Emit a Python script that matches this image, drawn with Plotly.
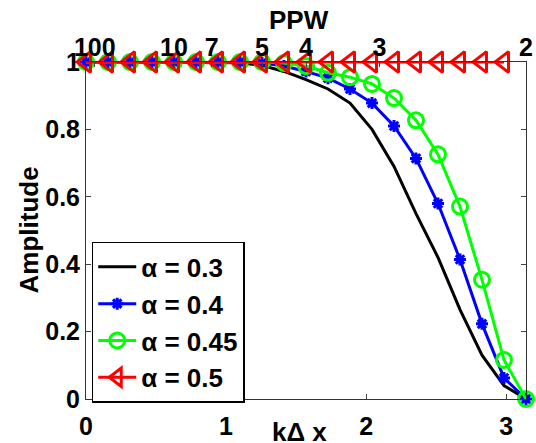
import numpy as np
import plotly.graph_objects as go

# sample index k -> k*pi/20
k_idx = list(range(21))
alpha03 = [1, 1, 1, 1, 1, 1, 1, 0.998, 0.99, 0.972, 0.948, 0.92, 0.878, 0.80, 0.69,
           0.55, 0.42, 0.265, 0.13, 0.04, 0]
alpha04 = [1, 1, 1, 1, 1, 1, 1, 1, 0.997, 0.988, 0.972, 0.952, 0.92, 0.878, 0.81,
           0.714, 0.58, 0.414, 0.223, 0.0625, 0]
alpha045 = [1, 1, 1, 1, 1, 1, 1, 1, 1, 0.997, 0.988, 0.968, 0.955, 0.935, 0.893,
            0.827, 0.726, 0.571, 0.354, 0.116, 0]
alpha05 = [1] * 20

ppw_ticks = [100, 10, 7, 5, 4, 3, 2]
x_ticks = [0, 1, 2, 3]
y_ticks = [0, 0.2, 0.4, 0.6, 0.8, 1]
y_ticktext = ["0", "0.2", "0.4", "0.6", "0.8", "1"]

x_all = [k * np.pi / 20 for k in k_idx]

FONT = "Liberation Sans"
fig = go.Figure()
fig.add_trace(go.Scatter(x=x_all, y=alpha03, mode="lines", name="α = 0.3",
                         line=dict(color="black", width=3), cliponaxis=False,
                         legendgroup="a"))
fig.add_trace(go.Scatter(x=x_all, y=alpha04, mode="lines+markers", name="α = 0.4",
                         line=dict(color="#0000ff", width=3),
                         marker=dict(symbol="asterisk-open", size=10,
                                     line=dict(color="#0000ff", width=3)),
                         cliponaxis=False, legendgroup="b"))
fig.add_trace(go.Scatter(x=x_all, y=alpha045, mode="lines+markers", name="α = 0.45",
                         line=dict(color="#00ff00", width=3),
                         marker=dict(symbol="circle-open", size=15,
                                     line=dict(color="#00ff00", width=3)),
                         cliponaxis=False, legendgroup="c"))
fig.add_trace(go.Scatter(x=x_all[:20], y=alpha05, mode="lines+markers", name="α = 0.5",
                         line=dict(color="#ff0000", width=3),
                         marker=dict(symbol="triangle-left-open", size=18,
                                     line=dict(color="#ff0000", width=3)),
                         cliponaxis=False, legendgroup="d"))
# invisible trace for top axis
fig.add_trace(go.Scatter(x=[0, np.pi], y=[0, 0], xaxis="x2", mode="markers",
                         marker=dict(opacity=0), showlegend=False, hoverinfo="skip"))

fig.update_layout(
    width=536, height=443,
    margin=dict(l=86, r=3, t=62, b=44),
    paper_bgcolor="white", plot_bgcolor="white",
    font=dict(family=FONT, size=25, color="black", weight="bold"),
    showlegend=True,
    legend=dict(x=0.013, y=0.466, xanchor="left", yanchor="top",
                bgcolor="white", bordercolor="black", borderwidth=1.5,
                font=dict(size=26, family=FONT, weight="bold"),
                itemwidth=38,
                traceorder="grouped", tracegroupgap=0),
    xaxis=dict(range=[0, np.pi], tickvals=x_ticks, ticks="inside", ticklen=5,
               showline=True, linecolor="#333", linewidth=1, showgrid=False,
               zeroline=False, mirror=False, ticklabelstandoff=5,
               ticklabeloverflow="allow"),
    xaxis2=dict(range=[0, np.pi], overlaying="x", side="top",
                tickvals=[2 * np.pi / p for p in ppw_ticks],
                ticktext=[str(p) for p in ppw_ticks],
                ticks="inside", ticklen=5, showline=True, linecolor="#333",
                linewidth=1, showgrid=False, zeroline=False,
                ticklabelstandoff=-5, ticklabeloverflow="allow"),
    yaxis=dict(range=[0, 1], tickvals=y_ticks, ticktext=y_ticktext,
               ticks="inside", ticklen=5, showline=True, linecolor="#333",
               linewidth=1, mirror="ticks", showgrid=False, zeroline=False,
               ticklabeloverflow="allow"),
    annotations=[
        dict(text="PPW", xref="paper", yref="paper", x=0.484, y=1, yshift=42,
             xanchor="center", yanchor="middle",
             showarrow=False, font=dict(size=26)),
        dict(text="kΔ x", xref="paper", yref="paper", x=0.485, y=0, yshift=-33,
             xanchor="center", yanchor="middle",
             showarrow=False, font=dict(size=26)),
        dict(text="Amplitude", xref="paper", yref="paper", x=0, xshift=-58, y=0.5,
             xanchor="center", yanchor="middle",
             textangle=-90, showarrow=False, font=dict(size=26)),
    ],
)
fig.write_html("out.html")
